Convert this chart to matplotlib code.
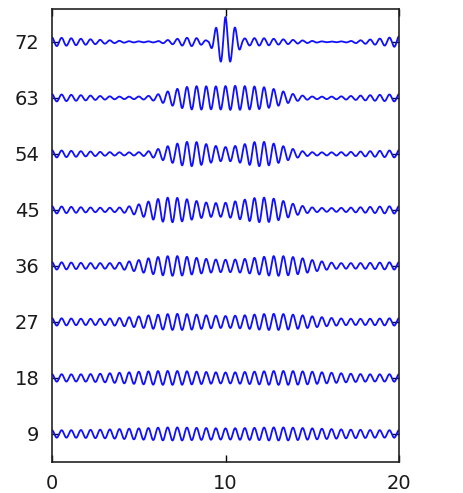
import numpy as np
import matplotlib
matplotlib.use("Agg")
import matplotlib.pyplot as plt

# row offsets (also the y tick labels)
offsets = [9, 18, 27, 36, 45, 54, 63, 72]
x_ticks = [0, 10, 20]

# envelope amplitude of each trace, read at x = 0, 0.5, 1, ..., 20
env_x = np.arange(0, 20.5, 0.5)
env_9 = [0.6, 0.6, 0.6, 0.62, 0.65, 0.68, 0.7, 0.75, 0.8, 0.85, 0.9, 0.95, 1.0, 1.05, 1.05, 1.05,
         1.0, 0.97, 0.95, 0.92, 0.9, 0.92, 0.95, 0.97, 1.0, 1.05, 1.05, 1.05, 1.0, 0.95, 0.9,
         0.85, 0.8, 0.75, 0.7, 0.68, 0.65, 0.62, 0.6, 0.6, 0.6]
env_18 = [0.6, 0.6, 0.58, 0.58, 0.6, 0.65, 0.7, 0.78, 0.85, 0.92, 1.0, 1.05, 1.1, 1.12, 1.12, 1.1,
          1.05, 1.0, 0.95, 0.9, 0.88, 0.9, 0.95, 1.0, 1.05, 1.1, 1.12, 1.12, 1.1, 1.05, 1.0,
          0.92, 0.85, 0.78, 0.7, 0.65, 0.6, 0.58, 0.58, 0.6, 0.6]
env_27 = [0.6, 0.58, 0.55, 0.52, 0.5, 0.5, 0.52, 0.58, 0.65, 0.78, 0.9, 1.05, 1.15, 1.25, 1.3, 1.3,
          1.25, 1.15, 1.05, 1.0, 0.95, 1.0, 1.05, 1.15, 1.25, 1.3, 1.3, 1.25, 1.15, 1.05, 0.9,
          0.78, 0.65, 0.58, 0.52, 0.5, 0.5, 0.52, 0.55, 0.58, 0.6]
env_36 = [0.6, 0.58, 0.55, 0.5, 0.47, 0.45, 0.45, 0.45, 0.55, 0.75, 0.95, 1.2, 1.4, 1.55, 1.6, 1.55,
          1.4, 1.25, 1.1, 1.02, 1.0, 1.02, 1.1, 1.25, 1.4, 1.55, 1.6, 1.55, 1.4, 1.2, 0.95,
          0.75, 0.55, 0.45, 0.45, 0.45, 0.47, 0.5, 0.55, 0.58, 0.6]
env_45 = [0.6, 0.55, 0.5, 0.45, 0.4, 0.37, 0.35, 0.35, 0.4, 0.6, 0.9, 1.3, 1.7, 1.95, 2.0, 1.85,
          1.6, 1.35, 1.15, 1.1, 1.15, 1.35, 1.6, 1.85, 2.0, 1.95, 1.7, 1.3, 0.9, 0.6, 0.4,
          0.32, 0.3, 0.32, 0.35, 0.4, 0.45, 0.5, 0.55, 0.58, 0.6]
env_54 = [0.6, 0.55, 0.5, 0.45, 0.4, 0.35, 0.3, 0.27, 0.25, 0.25, 0.27, 0.4, 0.7, 1.1, 1.5, 1.85,
          2.0, 1.85, 1.5, 1.25, 1.1, 1.25, 1.5, 1.85, 2.0, 1.85, 1.5, 1.1, 0.7, 0.4, 0.27,
          0.25, 0.25, 0.27, 0.3, 0.35, 0.4, 0.45, 0.5, 0.55, 0.6]
env_63 = [0.6, 0.55, 0.5, 0.45, 0.4, 0.33, 0.28, 0.23, 0.2, 0.2, 0.22, 0.3, 0.5, 0.9, 1.3, 1.65,
          1.85, 1.9, 1.85, 1.85, 1.9, 1.95, 1.9, 1.85, 1.8, 1.6, 1.3, 0.9, 0.55, 0.35, 0.22,
          0.2, 0.2, 0.23, 0.28, 0.33, 0.4, 0.45, 0.5, 0.55, 0.6]
env_72 = [0.7, 0.65, 0.6, 0.52, 0.45, 0.37, 0.3, 0.22, 0.15, 0.1, 0.08, 0.08, 0.1, 0.25, 0.4, 0.6,
          0.7, 0.55, 0.15, 2.5, 4.0, 2.5, 0.55, 0.6, 0.6, 0.55, 0.45, 0.38, 0.3, 0.22, 0.15,
          0.08, 0.05, 0.06, 0.1, 0.2, 0.3, 0.42, 0.55, 0.7, 0.9]
envelopes = [env_9, env_18, env_27, env_36, env_45, env_54, env_63, env_72]

# carrier: about 36 cycles over the window
cycles_per_unit = 1.8

x = np.linspace(0, 20, 4000)
carrier = np.sin(2 * np.pi * cycles_per_unit * (x - 10) + np.pi / 2)

plt.rcParams['font.family'] = ['DejaVu Sans']
fig = plt.figure(figsize=(4.64, 4.93), dpi=100)
ax = fig.add_axes([0.112, 0.063, 0.748, 0.919])

for off, env in zip(offsets, envelopes):
    amp = np.interp(x, env_x, env)
    ax.plot(x, off + amp * carrier, color="#1010ff", lw=1.3)

ax.set_xlim(0, 20)
ax.set_ylim(4.5, 77.3)
ax.set_xticks(x_ticks)
ax.set_yticks(offsets)
ax.tick_params(direction="in", top=True, right=True, length=5, width=1,
               labelsize=14, labelcolor="#1a1a1a")
ax.tick_params(axis="y", pad=9)
ax.tick_params(axis="x", pad=9)
for sp in ax.spines.values():
    sp.set_linewidth(1.2)
    sp.set_color("#222222")

fig.savefig("out.png", dpi=100)
